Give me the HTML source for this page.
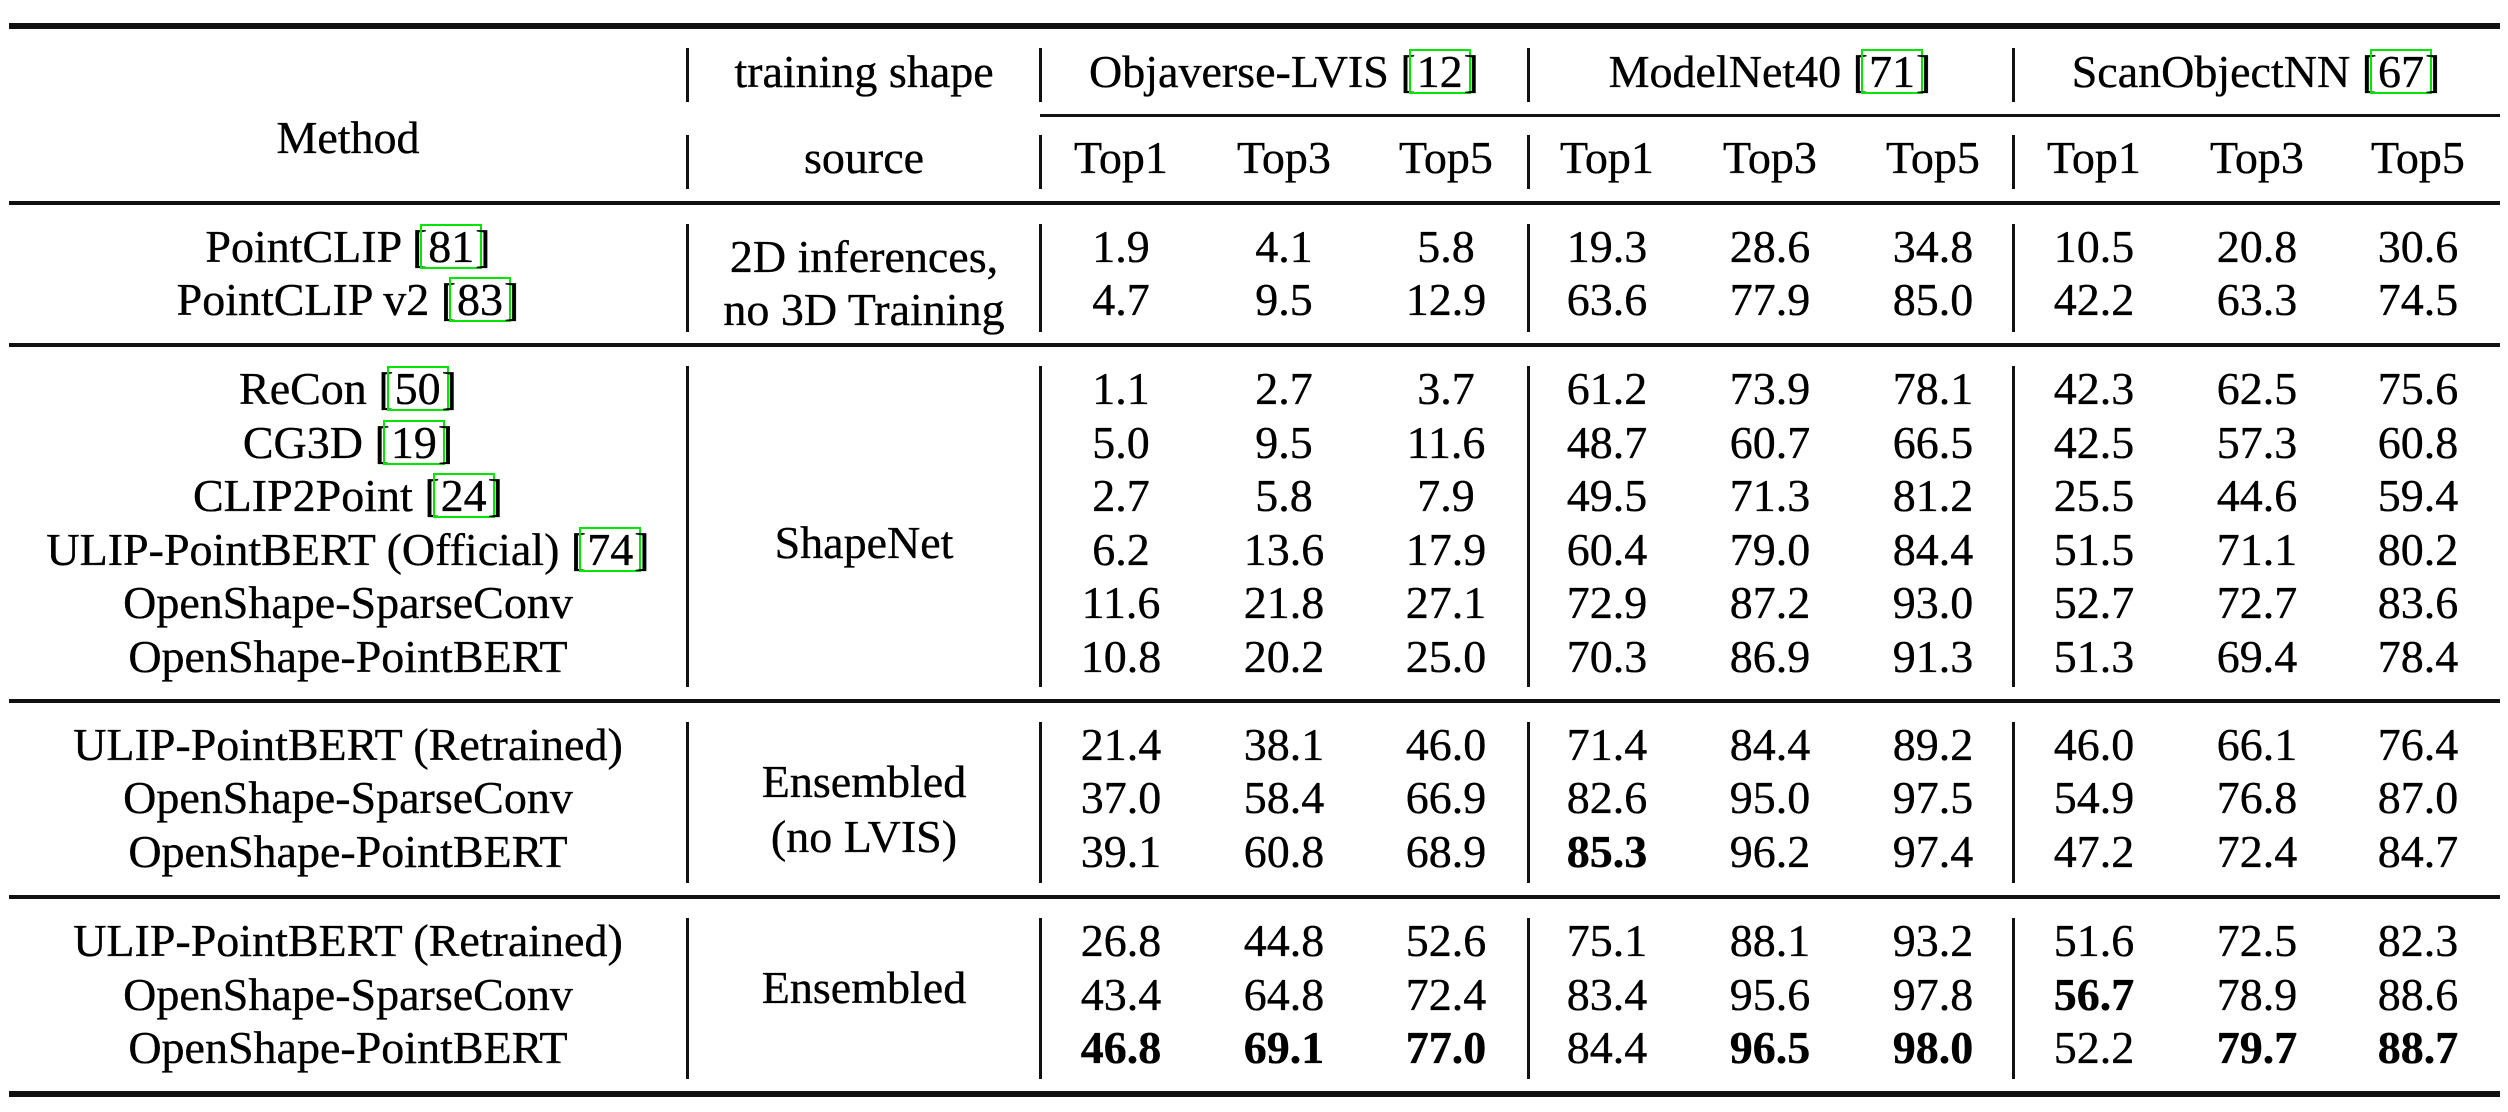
<!DOCTYPE html>
<html>
<head>
<meta charset="utf-8">
<style>
html,body{margin:0;padding:0;background:#fff;}
body{width:2508px;height:1112px;position:relative;overflow:hidden;font-family:"Liberation Serif","Times New Roman",serif;color:#000;}
.r{position:absolute;left:0;width:2508px;height:46px;font-size:46px;line-height:46px;-webkit-text-stroke:0.35px #000;}
.r div{position:absolute;top:0;text-align:center;white-space:nowrap;}
.m{left:-52px;width:800px;}
.s{left:464px;width:800px;}
.o1{left:1021px;width:200px;}.o2{left:1184px;width:200px;}.o3{left:1346px;width:200px;}
.n1{left:1507px;width:200px;}.n2{left:1670px;width:200px;}.n3{left:1833px;width:200px;}
.q1{left:1994px;width:200px;}.q2{left:2157px;width:200px;}.q3{left:2318px;width:200px;}
.g1{left:884px;width:800px;}.g2{left:1370px;width:800px;}.g3{left:1856px;width:800px;}
.c{display:inline-block;line-height:41px;border:2px solid #00e600;padding:0 6px;margin:0 -7px;}
b{font-weight:bold;}
.h{position:absolute;background:#111;}
.v{position:absolute;background:#111;width:3px;}
</style>
</head>
<body>
<!-- horizontal rules -->
<div class="h" style="left:9px;width:2491px;top:23px;height:6px;"></div>
<div class="h" style="left:1040px;width:1460px;top:114px;height:3px;"></div>
<div class="h" style="left:9px;width:2491px;top:201px;height:4px;"></div>
<div class="h" style="left:9px;width:2491px;top:343px;height:4px;"></div>
<div class="h" style="left:9px;width:2491px;top:699px;height:4px;"></div>
<div class="h" style="left:9px;width:2491px;top:895px;height:4px;"></div>
<div class="h" style="left:9px;width:2491px;top:1091px;height:6px;"></div>

<!-- vertical bars -->
<div class="v" style="left:686px;top:48px;height:54px;"></div>
<div class="v" style="left:1039px;top:48px;height:54px;"></div>
<div class="v" style="left:1527px;top:48px;height:54px;"></div>
<div class="v" style="left:2012px;top:48px;height:54px;"></div>

<div class="v" style="left:686px;top:135px;height:54px;"></div>
<div class="v" style="left:1039px;top:135px;height:54px;"></div>
<div class="v" style="left:1527px;top:135px;height:54px;"></div>
<div class="v" style="left:2012px;top:135px;height:54px;"></div>

<div class="v" style="left:686px;top:224px;height:108px;"></div>
<div class="v" style="left:1039px;top:224px;height:108px;"></div>
<div class="v" style="left:1527px;top:224px;height:108px;"></div>
<div class="v" style="left:2012px;top:224px;height:108px;"></div>

<div class="v" style="left:686px;top:366px;height:321px;"></div>
<div class="v" style="left:1039px;top:366px;height:321px;"></div>
<div class="v" style="left:1527px;top:366px;height:321px;"></div>
<div class="v" style="left:2012px;top:366px;height:321px;"></div>

<div class="v" style="left:686px;top:722px;height:161px;"></div>
<div class="v" style="left:1039px;top:722px;height:161px;"></div>
<div class="v" style="left:1527px;top:722px;height:161px;"></div>
<div class="v" style="left:2012px;top:722px;height:161px;"></div>

<div class="v" style="left:686px;top:918px;height:161px;"></div>
<div class="v" style="left:1039px;top:918px;height:161px;"></div>
<div class="v" style="left:1527px;top:918px;height:161px;"></div>
<div class="v" style="left:2012px;top:918px;height:161px;"></div>

<!-- header -->
<div class="r" style="top:48.5px;">
  <div class="s">training shape</div>
  <div class="g1">Objaverse-LVIS [<span class="c">12</span>]</div>
  <div class="g2">ModelNet40 [<span class="c">71</span>]</div>
  <div class="g3">ScanObjectNN [<span class="c">67</span>]</div>
</div>
<div class="r" style="top:114.5px;">
  <div class="m">Method</div>
</div>
<div class="r" style="top:134.5px;">
  <div class="s">source</div>
  <div class="o1">Top1</div><div class="o2">Top3</div><div class="o3">Top5</div>
  <div class="n1">Top1</div><div class="n2">Top3</div><div class="n3">Top5</div>
  <div class="q1">Top1</div><div class="q2">Top3</div><div class="q3">Top5</div>
</div>

<!-- group 1 -->
<div class="r" style="top:223.5px;">
  <div class="m">PointCLIP [<span class="c">81</span>]</div>
  <div class="o1">1.9</div><div class="o2">4.1</div><div class="o3">5.8</div>
  <div class="n1">19.3</div><div class="n2">28.6</div><div class="n3">34.8</div>
  <div class="q1">10.5</div><div class="q2">20.8</div><div class="q3">30.6</div>
</div>
<div class="r" style="top:276.5px;">
  <div class="m">PointCLIP v2 [<span class="c">83</span>]</div>
  <div class="o1">4.7</div><div class="o2">9.5</div><div class="o3">12.9</div>
  <div class="n1">63.6</div><div class="n2">77.9</div><div class="n3">85.0</div>
  <div class="q1">42.2</div><div class="q2">63.3</div><div class="q3">74.5</div>
</div>
<div class="r" style="top:233.5px;"><div class="s">2D inferences,</div></div>
<div class="r" style="top:286.5px;"><div class="s">no 3D Training</div></div>

<!-- group 2 -->
<div class="r" style="top:365.5px;">
  <div class="m">ReCon [<span class="c">50</span>]</div>
  <div class="o1">1.1</div><div class="o2">2.7</div><div class="o3">3.7</div>
  <div class="n1">61.2</div><div class="n2">73.9</div><div class="n3">78.1</div>
  <div class="q1">42.3</div><div class="q2">62.5</div><div class="q3">75.6</div>
</div>
<div class="r" style="top:419.5px;">
  <div class="m">CG3D [<span class="c">19</span>]</div>
  <div class="o1">5.0</div><div class="o2">9.5</div><div class="o3">11.6</div>
  <div class="n1">48.7</div><div class="n2">60.7</div><div class="n3">66.5</div>
  <div class="q1">42.5</div><div class="q2">57.3</div><div class="q3">60.8</div>
</div>
<div class="r" style="top:472.5px;">
  <div class="m">CLIP2Point [<span class="c">24</span>]</div>
  <div class="o1">2.7</div><div class="o2">5.8</div><div class="o3">7.9</div>
  <div class="n1">49.5</div><div class="n2">71.3</div><div class="n3">81.2</div>
  <div class="q1">25.5</div><div class="q2">44.6</div><div class="q3">59.4</div>
</div>
<div class="r" style="top:526.5px;">
  <div class="m">ULIP-PointBERT (Official) [<span class="c">74</span>]</div>
  <div class="o1">6.2</div><div class="o2">13.6</div><div class="o3">17.9</div>
  <div class="n1">60.4</div><div class="n2">79.0</div><div class="n3">84.4</div>
  <div class="q1">51.5</div><div class="q2">71.1</div><div class="q3">80.2</div>
</div>
<div class="r" style="top:579.5px;">
  <div class="m">OpenShape-SparseConv</div>
  <div class="o1">11.6</div><div class="o2">21.8</div><div class="o3">27.1</div>
  <div class="n1">72.9</div><div class="n2">87.2</div><div class="n3">93.0</div>
  <div class="q1">52.7</div><div class="q2">72.7</div><div class="q3">83.6</div>
</div>
<div class="r" style="top:633.5px;">
  <div class="m">OpenShape-PointBERT</div>
  <div class="o1">10.8</div><div class="o2">20.2</div><div class="o3">25.0</div>
  <div class="n1">70.3</div><div class="n2">86.9</div><div class="n3">91.3</div>
  <div class="q1">51.3</div><div class="q2">69.4</div><div class="q3">78.4</div>
</div>
<div class="r" style="top:519.5px;"><div class="s">ShapeNet</div></div>

<!-- group 3 -->
<div class="r" style="top:721.5px;">
  <div class="m">ULIP-PointBERT (Retrained)</div>
  <div class="o1">21.4</div><div class="o2">38.1</div><div class="o3">46.0</div>
  <div class="n1">71.4</div><div class="n2">84.4</div><div class="n3">89.2</div>
  <div class="q1">46.0</div><div class="q2">66.1</div><div class="q3">76.4</div>
</div>
<div class="r" style="top:774.5px;">
  <div class="m">OpenShape-SparseConv</div>
  <div class="o1">37.0</div><div class="o2">58.4</div><div class="o3">66.9</div>
  <div class="n1">82.6</div><div class="n2">95.0</div><div class="n3">97.5</div>
  <div class="q1">54.9</div><div class="q2">76.8</div><div class="q3">87.0</div>
</div>
<div class="r" style="top:828.5px;">
  <div class="m">OpenShape-PointBERT</div>
  <div class="o1">39.1</div><div class="o2">60.8</div><div class="o3">68.9</div>
  <div class="n1"><b>85.3</b></div><div class="n2">96.2</div><div class="n3">97.4</div>
  <div class="q1">47.2</div><div class="q2">72.4</div><div class="q3">84.7</div>
</div>
<div class="r" style="top:758.5px;"><div class="s">Ensembled</div></div>
<div class="r" style="top:813.5px;"><div class="s">(no LVIS)</div></div>

<!-- group 4 -->
<div class="r" style="top:917.5px;">
  <div class="m">ULIP-PointBERT (Retrained)</div>
  <div class="o1">26.8</div><div class="o2">44.8</div><div class="o3">52.6</div>
  <div class="n1">75.1</div><div class="n2">88.1</div><div class="n3">93.2</div>
  <div class="q1">51.6</div><div class="q2">72.5</div><div class="q3">82.3</div>
</div>
<div class="r" style="top:971.5px;">
  <div class="m">OpenShape-SparseConv</div>
  <div class="o1">43.4</div><div class="o2">64.8</div><div class="o3">72.4</div>
  <div class="n1">83.4</div><div class="n2">95.6</div><div class="n3">97.8</div>
  <div class="q1"><b>56.7</b></div><div class="q2">78.9</div><div class="q3">88.6</div>
</div>
<div class="r" style="top:1024.5px;">
  <div class="m">OpenShape-PointBERT</div>
  <div class="o1"><b>46.8</b></div><div class="o2"><b>69.1</b></div><div class="o3"><b>77.0</b></div>
  <div class="n1">84.4</div><div class="n2"><b>96.5</b></div><div class="n3"><b>98.0</b></div>
  <div class="q1">52.2</div><div class="q2"><b>79.7</b></div><div class="q3"><b>88.7</b></div>
</div>
<div class="r" style="top:964.5px;"><div class="s">Ensembled</div></div>

</body>
</html>
